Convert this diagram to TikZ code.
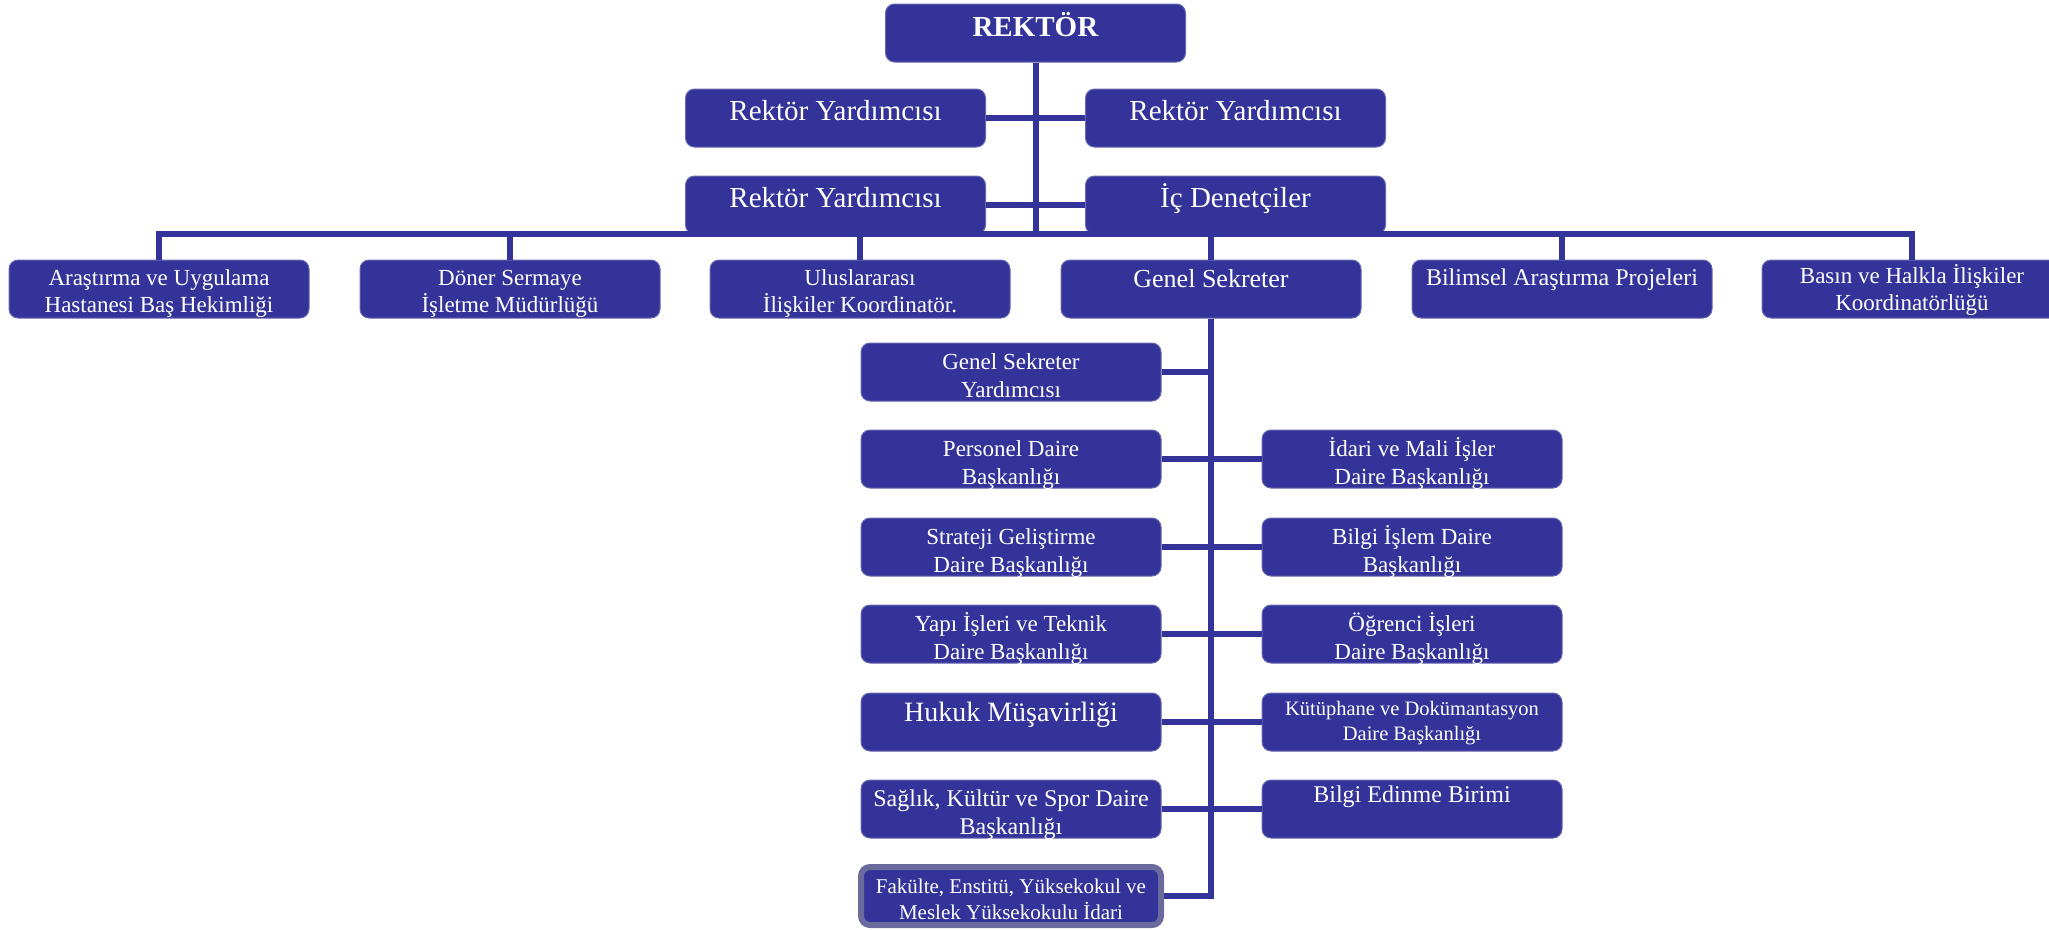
\documentclass[tikz,border=0pt]{standalone}
\usepackage{fontspec}
\setmainfont{Liberation Serif}
\usetikzlibrary{positioning}

\definecolor{orgblue}{RGB}{51,51,153}
\definecolor{orgedge}{RGB}{104,104,176}
\definecolor{orggray}{RGB}{106,106,156}

% text inside a box: [baselineskip]{size}{first baseline}{text}
\newcommand{\boxtxt}[4][27]{\parbox[c][58pt][t]{300pt}{\centering\fontsize{#2pt}{#1pt}\selectfont\rule{0pt}{#3pt}#4}}

\tikzset{
  orgbox/.style={fill=orgblue,draw=orgedge,line width=1pt,rounded corners=9pt,inner sep=0pt,text=white},
  link/.style={draw=orgblue,line width=6pt},
}

\begin{document}
\begin{tikzpicture}[x=1pt,y=-1pt]
\useasboundingbox (0,0) rectangle (2049,929);

% top
\node[orgbox] (rektor) at (1035.5,33) {\boxtxt{29}{32}{\textbf{REKTÖR}}};
\node[orgbox] (ryA) at (835.5,118) {\boxtxt{29}{31}{Rektör Yardımcısı}};
\node[orgbox] (ryB) at (1235.5,118) {\boxtxt{29}{31}{Rektör Yardımcısı}};
\node[orgbox] (ryC) at (835.5,205) {\boxtxt{29}{31}{Rektör Yardımcısı}};
\node[orgbox] (icd) at (1235.5,205) {\boxtxt{29}{31}{İç Denetçiler}};

% second level
\node[orgbox] (d1) at (159,289) {\boxtxt{23}{25}{Araştırma ve Uygulama\\Hastanesi Baş Hekimliği}};
\node[orgbox] (d2) at (510,289) {\boxtxt{23}{25}{Döner Sermaye\\İşletme Müdürlüğü}};
\node[orgbox] (d3) at (860,289) {\boxtxt{23}{25}{Uluslararası\\İlişkiler Koordinatör.}};
\node[orgbox] (gs) at (1211,289) {\boxtxt{26}{27}{Genel Sekreter}};
\node[orgbox] (d5) at (1562,289) {\boxtxt{24}{25}{Bilimsel Araştırma Projeleri}};
\node[orgbox] (d6) at (1912,289) {\boxtxt{23}{23}{Basın ve Halkla İlişkiler\\Koordinatörlüğü}};

% genel sekreter units
\foreach \n/\y/\t in {l1/372/{Genel Sekreter\\Yardımcısı},
                      l2/459/{Personel Daire\\Başkanlığı},
                      l3/547/{Strateji Geliştirme\\Daire Başkanlığı},
                      l4/634/{Yapı İşleri ve Teknik\\Daire Başkanlığı}}
  \node[orgbox] (\n) at (1011,\y) {\boxtxt[28]{23}{26}{\t}};
\node[orgbox] (l5) at (1011,722) {\boxtxt{28}{28}{Hukuk Müşavirliği}};
\node[orgbox] (l6) at (1011,809) {\boxtxt[28]{24}{26}{Sağlık, Kültür ve Spor Daire\\Başkanlığı}};
\node[orgbox,draw=orggray,line width=6pt] (fak) at (1011,896) {\boxtxt[26]{21}{26}{Fakülte, Enstitü, Yüksekokul ve\\Meslek Yüksekokulu İdari}};

\foreach \n/\y/\t in {r2/459/{İdari ve Mali İşler\\Daire Başkanlığı},
                      r3/547/{Bilgi İşlem Daire\\Başkanlığı},
                      r4/634/{Öğrenci İşleri\\Daire Başkanlığı}}
  \node[orgbox] (\n) at (1412,\y) {\boxtxt[28]{23}{26}{\t}};
\node[orgbox] (r5) at (1412,722) {\boxtxt[25]{20.5}{22}{Kütüphane ve Dokümantasyon\\Daire Başkanlığı}};
\node[orgbox] (r6) at (1412,809) {\boxtxt{24}{22}{Bilgi Edinme Birimi}};

% connectors
\coordinate (bus) at (159,234);
\draw[link] (rektor.south) -- (rektor.south |- bus);
\draw[link] (ryA.east) -- (ryB.west);
\draw[link] (ryC.east) -- (icd.west);
\draw[link,line join=miter] (d1.north) |- (d6.north |- bus) -- (d6.north);
\foreach \d in {d2,d3,gs,d5}
  \draw[link] (\d.north) -- (\d.north |- bus);

\draw[link,line join=miter] (gs.south) |- (fak.east);
\draw[link] (l1.east) -- (l1.east -| gs.south);
\foreach \k in {2,...,6}
  \draw[link] (l\k.east) -- (r\k.west);
\end{tikzpicture}
\end{document}
